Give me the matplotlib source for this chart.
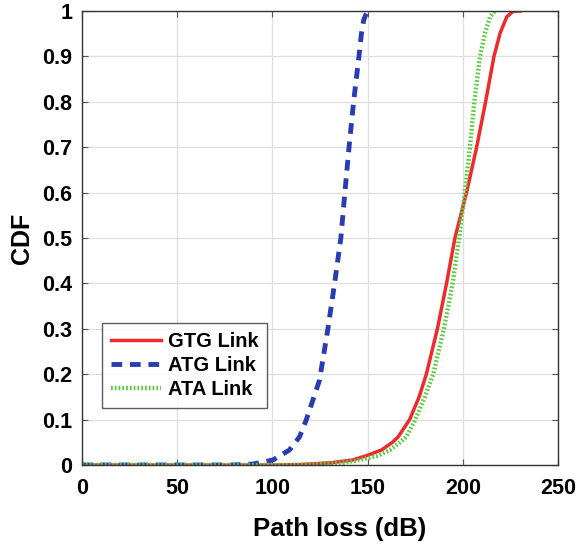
import matplotlib
matplotlib.use("Agg")
import matplotlib.pyplot as plt

# ATG link (blue dashed)
atg_x = [0, 79, 89.6, 100.2, 108.9, 114.2, 117.7, 121.2, 124.7, 129.1, 132.6, 135.9, 138, 140.2, 142.6, 145.4, 146.7, 147.9, 148.8, 150.2, 152.6]
atg_y = [0, 0, 0.002, 0.011, 0.033, 0.062, 0.099, 0.143, 0.187, 0.3, 0.4, 0.5, 0.6, 0.7, 0.8, 0.9, 0.95, 0.98, 0.99, 1.0, 1.0]

# GTG link (red solid)
gtg_x = [0, 100, 115, 131, 142, 149, 157.2, 163, 166, 172, 177, 180.8, 186.6, 191.4, 195.8, 201.9, 207.2, 211.9, 216.3, 219.5, 223, 226.3, 230]
gtg_y = [0, 0, 0.001, 0.005, 0.011, 0.02, 0.033, 0.05, 0.062, 0.1, 0.15, 0.2, 0.3, 0.4, 0.5, 0.6, 0.7, 0.8, 0.9, 0.951, 0.987, 0.999, 1.0]

# ATA link (green dotted)
ata_x = [0, 110, 120, 137, 145.8, 155, 161.6, 167, 170.3, 175, 180, 184.4, 190, 194.6, 198, 201, 203.7, 206, 209, 211.6, 214.2, 216.8]
ata_y = [0, 0, 0.001, 0.005, 0.011, 0.02, 0.033, 0.05, 0.062, 0.1, 0.15, 0.2, 0.3, 0.4, 0.5, 0.6, 0.7, 0.8, 0.9, 0.951, 0.987, 1.0]

x_ticks = [0, 50, 100, 150, 200, 250]
y_ticks = [0, 0.1, 0.2, 0.3, 0.4, 0.5, 0.6, 0.7, 0.8, 0.9, 1]
y_ticklabels = ["0", "0.1", "0.2", "0.3", "0.4", "0.5", "0.6", "0.7", "0.8", "0.9", "1"]

plt.rcParams['font.family'] = ['Liberation Sans', 'DejaVu Sans']
plt.rcParams['font.weight'] = 'bold'

fig = plt.figure(figsize=(5.82, 5.49), dpi=100)
ax = fig.add_axes([0.141, 0.153, 0.818, 0.827])

ax.plot(gtg_x, gtg_y, color='#ee2a2a', lw=2.5, label='GTG Link')
ax.plot(atg_x, atg_y, color='#2a3db0', lw=3.5, ls=(0, (2.2, 1.6)), label='ATG Link')
ax.plot(ata_x, ata_y, color='#5ccc45', lw=3.2, ls=(0, (0.4, 0.45)), label='ATA Link')

ax.set_xlim(0, 250)
ax.set_ylim(0, 1)
ax.set_xticks(x_ticks)
ax.set_yticks(y_ticks)
ax.set_yticklabels(y_ticklabels)
ax.grid(True, color='#dedede', lw=0.9)
ax.set_axisbelow(True)
ax.tick_params(direction='in', top=True, right=True, labelsize=15.5, length=4, width=0.8, color='#555555')
ax.tick_params(axis='x', pad=9)
ax.tick_params(axis='y', pad=7)
for lab in ax.get_xticklabels() + ax.get_yticklabels():
    lab.set_fontweight('bold')
for s in ax.spines.values():
    s.set_color('#333333')
    s.set_linewidth(1.0)

ax.set_xlabel('Path loss (dB)', fontsize=18.5, fontweight='bold')
ax.xaxis.set_label_coords(0.54, -0.115)
ax.set_ylabel('CDF', fontsize=18, fontweight='bold', labelpad=6)

leg = ax.legend(loc='lower left', bbox_to_anchor=(0.042, 0.125), fontsize=14.5, frameon=True,
                fancybox=False, edgecolor='#333333', handlelength=2.5, handletextpad=0.3,
                borderpad=0.45, labelspacing=0.25, borderaxespad=0)
leg.get_frame().set_linewidth(1.0)
for t in leg.get_texts():
    t.set_fontweight('bold')

fig.savefig('out.png', dpi=100)
